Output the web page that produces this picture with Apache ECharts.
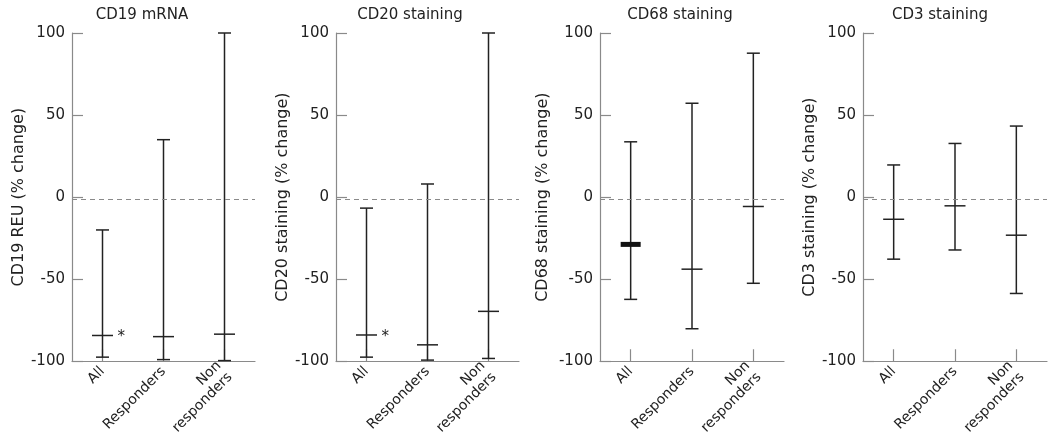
<!DOCTYPE html>
<html><head><meta charset="utf-8">
<script src="https://cdn.jsdelivr.net/npm/echarts@6/dist/echarts.min.js"></script>
<style>html,body{margin:0;padding:0;background:#fff}#c{width:1050px;height:438px}</style>
</head><body><div id="c"></div>
<script>
const categories = ['All', 'Responders', 'Non\nresponders'];
const titles = ['CD19 mRNA', 'CD20 staining', 'CD68 staining', 'CD3 staining'];
const yNames = ['CD19 REU (% change)', 'CD20 staining (% change)', 'CD68 staining (% change)', 'CD3 staining (% change)'];
const yMin = -100, yMax = 100, yStep = 50;

const cd19Low  = [-97.5, -99, -99.6];
const cd19Mean = [-84.3, -85, -83.5];
const cd19High = [-20, 35, 100];

const cd20Low  = [-97.5, -99.3, -98.3];
const cd20Mean = [-84, -90, -69.6];
const cd20High = [-6.7, 8, 100];

const cd68Low  = [-62.3, -80.2, -52.5];
const cd68Mean = [-28.8, -43.9, -5.7];
const cd68High = [33.7, 57.2, 87.7];

const cd3Low  = [-37.8, -32.2, -58.7];
const cd3Mean = [-13.5, -5.3, -23.2];
const cd3High = [19.6, 32.7, 43.3];

const significant = [[true, false, false], [true, false, false], [false, false, false], [false, false, false]];
const referenceLine = -1;

const panels = [
  [cd19Low, cd19Mean, cd19High],
  [cd20Low, cd20Mean, cd20High],
  [cd68Low, cd68Mean, cd68High],
  [cd3Low, cd3Mean, cd3High]
];

const FONT = 'DejaVu Sans';
const INK = '#222';
const AXIS = '#8a8a8a';
const gridLefts = [72, 336, 600, 863];
const gridWidths = [183, 183, 184, 184];
const titleCenters = [142, 410, 680, 940];
const nameGaps = [37, 45, 49, 42];

function makeRender(panel) {
  return function (params, api) {
    const i = api.value(0);
    const lo = api.coord([i, api.value(1)]);
    const mid = api.coord([i, api.value(2)]);
    const hi = api.coord([i, api.value(3)]);
    const x = lo[0];
    const s = { stroke: INK, lineWidth: 1.5 };
    const ch = [
      { type: 'line', shape: { x1: x, y1: lo[1], x2: x, y2: hi[1] }, style: s },
      { type: 'line', shape: { x1: x - 6.5, y1: lo[1], x2: x + 6.5, y2: lo[1] }, style: s },
      { type: 'line', shape: { x1: x - 6.5, y1: hi[1], x2: x + 6.5, y2: hi[1] }, style: s }
    ];
    if (panel === 2 && i === 0) {
      ch.push({ type: 'rect', shape: { x: x - 10, y: mid[1] - 2.5, width: 20, height: 5 }, style: { fill: '#111' } });
    } else {
      ch.push({ type: 'line', shape: { x1: x - 10.5, y1: mid[1], x2: x + 10.5, y2: mid[1] }, style: s });
    }
    if (significant[panel][i]) {
      ch.push({ type: 'text', style: { text: '*', x: x + 15, y: mid[1] + 2, fontSize: 15, fontFamily: FONT, fill: INK, verticalAlign: 'middle', align: 'left' } });
    }
    return { type: 'group', children: ch };
  };
}

const option = {
  animation: false,
  backgroundColor: '#fff',
  title: titles.map((t, k) => ({
    text: t, left: titleCenters[k], top: 8, textAlign: 'center', padding: 0,
    textStyle: { fontFamily: FONT, fontSize: 15, fontWeight: 'normal', color: INK }
  })),
  grid: panels.map((p, k) => ({ left: gridLefts[k], width: gridWidths[k], top: 33, height: 332 })),
  xAxis: panels.map((p, k) => ({
    type: 'category', gridIndex: k, data: categories, boundaryGap: true,
    axisLine: { onZero: false, lineStyle: { color: AXIS, width: 1.2 } },
    axisTick: { show: true, inside: true, length: 12, alignWithLabel: true, lineStyle: { color: AXIS, width: 1.2 } },
    axisLabel: { rotate: 45, margin: 8, interval: 0, fontFamily: FONT, fontSize: 14, color: INK, lineHeight: 16 }
  })),
  yAxis: panels.map((p, k) => ({
    type: 'value', gridIndex: k, min: yMin, max: yMax, interval: yStep,
    name: yNames[k], nameLocation: 'middle', nameGap: nameGaps[k],
    nameTextStyle: { fontFamily: FONT, fontSize: 16, color: INK },
    axisLine: { show: true, onZero: false, lineStyle: { color: AXIS, width: 1.2 } },
    axisTick: { show: true, inside: true, length: 11, lineStyle: { color: AXIS, width: 1.2 } },
    axisLabel: { margin: 7, fontFamily: FONT, fontSize: 15, color: INK },
    splitLine: { show: false }
  })),
  series: panels.map((p, k) => ({
    type: 'custom', xAxisIndex: k, yAxisIndex: k,
    renderItem: makeRender(k),
    data: categories.map((c, i) => [i, p[0][i], p[1][i], p[2][i]]),
    markLine: {
      silent: true, symbol: 'none', label: { show: false },
      lineStyle: { color: AXIS, type: [5, 4], width: 1.2 },
      data: [{ yAxis: referenceLine }]
    }
  }))
};

const chart = echarts.init(document.getElementById('c'), null, { renderer: 'canvas' });
chart.setOption(option);
</script>
</body></html>
